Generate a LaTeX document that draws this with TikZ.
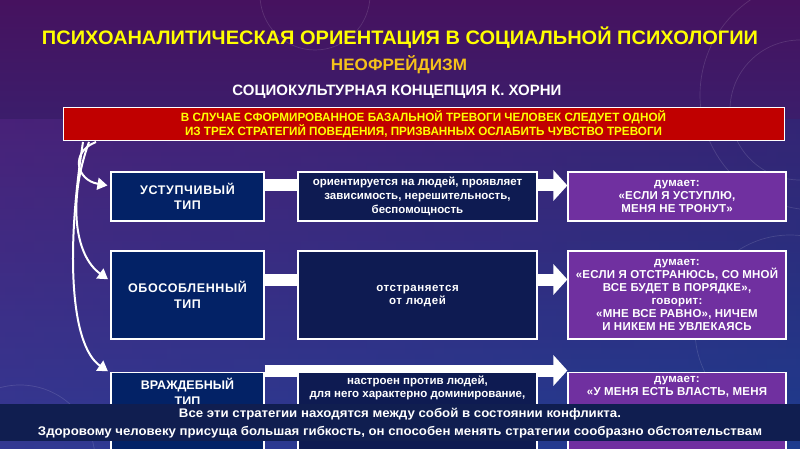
\documentclass[tikz,border=0pt]{standalone}
\usepackage{fontspec}
\setmainfont{Liberation Sans}
\usetikzlibrary{arrows.meta,calc}
\definecolor{bgtop}{HTML}{46125F}
\definecolor{bgmid}{HTML}{36267E}
\definecolor{bgbot}{HTML}{1E3C8E}
\definecolor{lboxc}{HTML}{032266}
\definecolor{mboxc}{HTML}{0E1B52}
\definecolor{purc}{HTML}{7030A0}
\definecolor{redc}{HTML}{C00000}
\definecolor{ttlyellow}{HTML}{FFFF00}
\definecolor{goldc}{HTML}{F5C21A}
\definecolor{bandc}{HTML}{101E50}
\newcommand\fitw[2]{\resizebox{#1}{\height}{#2}}
\pgfdeclarelayer{back}
\pgfdeclarelayer{conn}
\pgfsetlayers{back,conn,main}
\begin{document}
\begin{tikzpicture}[x=1pt,y=-1pt,
  ttl/.style={anchor=base, inner sep=0pt, font=\bfseries},
  lbox/.style={draw=white, line width=1.2pt, fill=lboxc, text=white, align=center,
    minimum width=153pt, inner sep=0pt,
    font=\bfseries\fontsize{12.5}{15.5}\selectfont\addfontfeature{LetterSpace=5}},
  mbox/.style={draw=white, line width=1.2pt, fill=mboxc, text=white, align=center,
    minimum width=239pt, inner sep=0pt, font=\bfseries\fontsize{11.5}{14}\selectfont},
  pbox/.style={draw=white, line width=1.2pt, fill=purc, text=white, align=center,
    minimum width=218pt, inner sep=0pt,
    font=\bfseries\fontsize{11.5}{13}\selectfont\addfontfeature{LetterSpace=2}},
  boxtext/.style={anchor=north, inner sep=0pt, text=white, align=center},
  barrow/.style={draw=white, line width=12pt, -{Triangle[width=30pt,length=14pt]}},
  carrow/.style={draw=white, line width=2pt, -{Triangle[width=12pt,length=10pt]}},
  deco/.style={draw=white, opacity=.13, line width=.7pt}]
\useasboundingbox (0,0) rectangle (800,449);
\begin{pgfonlayer}{back}
  \shade[top color=bgtop, middle color=bgmid, bottom color=bgbot] (0,0) rectangle (800,449);
  \shade[left color=purc, right color=bgbot, opacity=.25] (0,120) rectangle (800,449);
  \draw[deco] (315,-5) circle (55);
  \draw[deco] (815,95) circle (115);
  \draw[deco] (800,110) circle (70);
  \draw[deco] (790,330) circle (95);
  \draw[deco] (20,460) circle (75);
\end{pgfonlayer}

% titles
\node[ttl, text=ttlyellow] (title) at (400,45)
  {\fitw{716pt}{\fontsize{19.5}{22}\selectfont ПСИХОАНАЛИТИЧЕСКАЯ ОРИЕНТАЦИЯ В СОЦИАЛЬНОЙ ПСИХОЛОГИИ}};
\node[ttl, text=goldc] (neo) at (399,71)
  {\fitw{136pt}{\fontsize{16.5}{18}\selectfont НЕОФРЕЙДИЗМ}};
\node[ttl, text=white] (sub) at (397,95.5)
  {\fitw{329pt}{\fontsize{15}{17}\selectfont СОЦИОКУЛЬТУРНАЯ КОНЦЕПЦИЯ К. ХОРНИ}};

% red banner
\node[draw=white, line width=1pt, fill=redc, text=ttlyellow, minimum width=721pt,
  minimum height=33pt, inner sep=0pt, align=center,
  font=\bfseries\fontsize{12}{14}\selectfont] (ban) at (423.5,124.5)
  {\fitw{485pt}{В СЛУЧАЕ СФОРМИРОВАННОЕ БАЗАЛЬНОЙ ТРЕВОГИ ЧЕЛОВЕК СЛЕДУЕТ ОДНОЙ}\\
   \fitw{477pt}{ИЗ ТРЕХ СТРАТЕГИЙ ПОВЕДЕНИЯ, ПРИЗВАННЫХ ОСЛАБИТЬ ЧУВСТВО ТРЕВОГИ}};

% row 1
\node[lbox, minimum height=49pt] (l1) at (187.5,196.5) {УСТУПЧИВЫЙ\\ТИП};
\node[mbox, minimum height=49pt] (m1) at (417.5,196.5)
  {\raisebox{-0.5pt}{\begin{tabular}{@{}c@{}}ориентируется на людей, проявляет\\зависимость, нерешительность,\\беспомощность\end{tabular}}};
\node[pbox, minimum height=49pt] (p1) at (677,196.5)
  {думает:\\«ЕСЛИ Я УСТУПЛЮ,\\МЕНЯ НЕ ТРОНУТ»};

% row 2
\node[lbox, minimum height=88pt] (l2) at (187.5,295) {ОБОСОБЛЕННЫЙ\\ТИП};
\node[mbox, minimum height=88pt] (m2) at (417.5,295)
  {\addfontfeature{LetterSpace=5}\raisebox{-6pt}{\begin{tabular}{@{}c@{}}отстраняется\\[-1pt]от людей\end{tabular}}};
\node[pbox, minimum height=88pt] (p2) at (677,295)
  {думает:\\«ЕСЛИ Я ОТСТРАНЮСЬ, СО МНОЙ\\ВСЕ БУДЕТ В ПОРЯДКЕ»,\\говорит:\\«МНЕ ВСЕ РАВНО», НИЧЕМ\\И НИКЕМ НЕ УВЛЕКАЯСЬ};

% row 3 (cut by the bottom band)
\node[lbox, minimum height=88pt, anchor=north] (l3) at (187.5,372) {};
\node[mbox, minimum height=88pt, anchor=north] (m3) at (417.5,372) {};
\node[pbox, minimum height=88pt, anchor=north] (p3) at (677,372) {};
\node[boxtext, font=\bfseries\fontsize{12.5}{15.5}\selectfont] (l3t) at ($(l3.north)+(0,6)$)
  {ВРАЖДЕБНЫЙ\\ТИП};
\node[boxtext, font=\bfseries\fontsize{11.5}{13}\selectfont] (m3t) at ($(m3.north)+(0,3.5)$)
  {настроен против людей,\\для него характерно доминирование,};
\node[boxtext, font=\bfseries\fontsize{11.5}{12.5}\selectfont\addfontfeature{LetterSpace=2}] (p3t)
  at ($(p3.north)+(0,4.5)$)
  {думает:\\«У МЕНЯ ЕСТЬ ВЛАСТЬ, МЕНЯ};

% connectors
\coordinate (y1) at (0,185.5);
\coordinate (y2) at (0,279.5);
\coordinate (y3) at (0,370.5);
\coordinate (s1) at (96,142);
\coordinate (s2) at (89,142);
\coordinate (s3) at (83,142);
\begin{pgfonlayer}{conn}
  \draw[barrow] (l1.east |- y1) -- (p1.west |- y1);
  \draw[barrow] (l2.east |- y2) -- (p2.west |- y2);
  \draw[barrow] (l3.east |- y3) -- (p3.west |- y3);
  \draw[carrow, shorten >=3pt] (s1) .. controls (70,152) and (76,180) .. ($(l1.west |- y1)+(0,0.5)$);
  \draw[carrow, shorten >=3pt] (s2) .. controls (68,200) and (74,255) .. ($(l2.west |- y2)+(0,1.5)$);
  \draw[carrow, shorten >=3pt] (s3) .. controls (66,250) and (70,345) .. ($(l3.west |- y3)+(0,2.5)$);
\end{pgfonlayer}

% bottom band
\fill[bandc] (0,404) rectangle (800,441);
\node[ttl, text=white] (b1) at (400,417.5)
  {\fitw{442pt}{\fontsize{12.5}{14}\selectfont Все эти стратегии находятся между собой в состоянии конфликта.}};
\node[ttl, text=white] (b2) at (400,435)
  {\fitw{724pt}{\fontsize{12.5}{14}\selectfont Здоровому человеку присуща большая гибкость, он способен менять стратегии сообразно обстоятельствам}};
\end{tikzpicture}
\end{document}
